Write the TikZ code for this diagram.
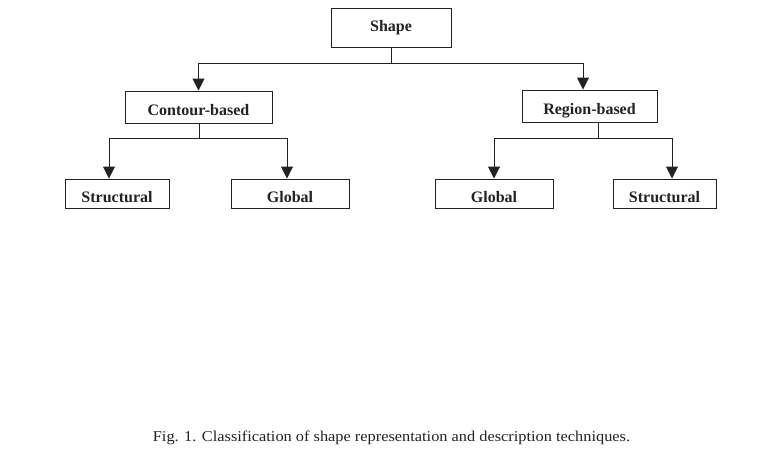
\documentclass[tikz,border=0pt]{standalone}
\usepackage{fontspec}
\setmainfont{Liberation Serif}
\newfontfamily\capfont[FakeStretch=1.09]{Liberation Serif}
\usetikzlibrary{arrows.meta}
\definecolor{ink}{HTML}{222222}
\begin{document}
\begin{tikzpicture}[x=1pt,y=1pt,
  box/.style={draw=ink,line width=1pt,inner sep=0pt,text=ink,text depth=0pt,font=\fontsize{16}{19}\selectfont\bfseries},
  toprow/.style={box,text height=8pt},
  midrow/.style={box,text height=16pt},
  botrow/.style={box,text height=17pt,minimum height=29pt},
  conn/.style={draw=ink,line width=1pt},
  arr/.style={conn,-{Triangle[width=12pt,length=12pt]}}]
\useasboundingbox[fill=white] (0,0) rectangle (765,-467);
\node[toprow,minimum width=120pt,minimum height=39pt] (shape) at (391,-27.5) {Shape};
\node[midrow,minimum width=147pt,minimum height=32pt] (contour) at (198.5,-107) {Contour-based};
\node[midrow,minimum width=135pt,minimum height=32pt] (region) at (589.5,-106) {Region-based};
\node[botrow,minimum width=104pt] (s1) at (117,-193.5) {Structural};
\node[botrow,minimum width=118pt] (g1) at (290,-193.5) {Global};
\node[botrow,minimum width=118pt] (g2) at (494,-193.5) {Global};
\node[botrow,minimum width=103pt] (s2) at (664.5,-193.5) {Structural};
\coordinate (j0) at (391,-63);
\coordinate (j1) at (199,-138);
\coordinate (j2) at (598,-138);
\draw[conn] (shape.south) -- (j0);
\draw[arr] (j0) -| (contour.north);
\draw[arr] (j0) -| ([xshift=-6.5pt]region.north);
\draw[conn] (contour.south -| j1) -- (j1);
\draw[arr] (j1) -| ([xshift=-8pt]s1.north);
\draw[arr] (j1) -| ([xshift=-3pt]g1.north);
\draw[conn] (region.south -| j2) -- (j2);
\draw[arr] (j2) -| (g2.north);
\draw[arr] (j2) -| ([xshift=7.5pt]s2.north);
\node[text=ink,font=\capfont\fontsize{15}{18}\selectfont,inner sep=0pt] (cap) at (391.5,-438) {Fig. 1. Classification of shape representation and description techniques.};
\end{tikzpicture}
\end{document}
